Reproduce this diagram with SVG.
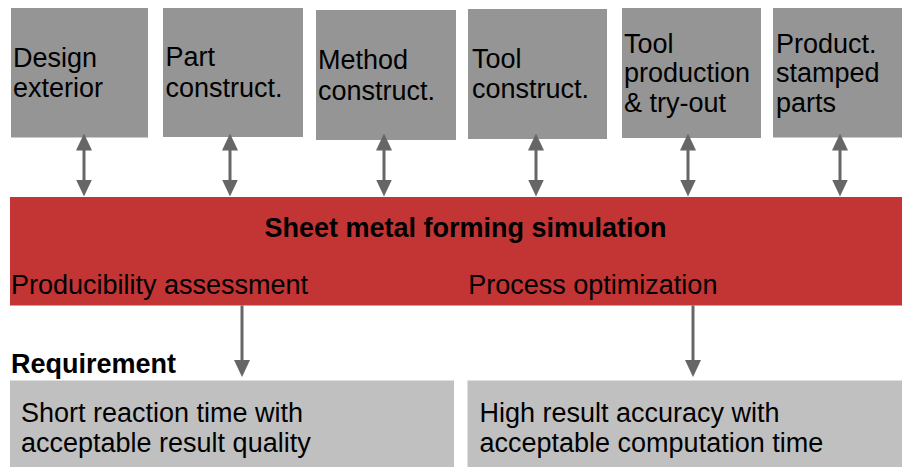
<svg xmlns="http://www.w3.org/2000/svg" width="902" height="467" viewBox="0 0 902 467">
  <style>
    .stage { fill: #959595; }
    .req { fill: #c0c0c0; }
    .band { fill: #c33434; }
    text { font-family: "Liberation Sans", Arial, sans-serif; font-size: 27px; fill: #000; }
    .bold { font-weight: bold; }
    .conn { stroke: #666666; stroke-width: 3; fill: none; }
  </style>
  <defs>
    <marker id="head" viewBox="0 0 17 16" refX="7" refY="8" markerWidth="17" markerHeight="16" markerUnits="userSpaceOnUse" orient="auto-start-reverse">
      <path d="M0,0 L17,8 L0,16 Z" fill="#666666"/>
    </marker>
  </defs>

  <rect width="902" height="467" fill="#ffffff"/>

  <!-- process stages -->
  <g id="design-exterior">
    <rect class="stage" x="11" y="8" width="137" height="129.5"/>
    <text x="13" y="67">Design</text>
    <text x="13" y="97">exterior</text>
  </g>
  <g id="part-construct">
    <rect class="stage" x="163" y="8" width="140" height="129"/>
    <text x="165.5" y="66">Part</text>
    <text x="165.5" y="96.5">construct.</text>
  </g>
  <g id="method-construct">
    <rect class="stage" x="316" y="10" width="140" height="130"/>
    <text x="318" y="69">Method</text>
    <text x="318" y="100">construct.</text>
  </g>
  <g id="tool-construct">
    <rect class="stage" x="468" y="9" width="139" height="130"/>
    <text x="472" y="67.5">Tool</text>
    <text x="472" y="98">construct.</text>
  </g>
  <g id="tool-production">
    <rect class="stage" x="622" y="8" width="139" height="130"/>
    <text x="624" y="52.5">Tool</text>
    <text x="624" y="82">production</text>
    <text x="624" y="112">&amp; try-out</text>
  </g>
  <g id="stamped-parts">
    <rect class="stage" x="773" y="8" width="140" height="129.5"/>
    <text x="776" y="52.5">Product.</text>
    <text x="776" y="82">stamped</text>
    <text x="776" y="112">parts</text>
  </g>

  <!-- simulation band -->
  <g id="simulation">
    <rect class="band" x="10" y="197" width="900" height="108.5"/>
    <text class="bold" x="465.5" y="236.7" text-anchor="middle">Sheet metal forming simulation</text>
    <text x="11" y="294.3">Producibility assessment</text>
    <text x="468.3" y="294.3">Process optimization</text>
  </g>

  <text id="requirement-label" class="bold" x="11" y="373">Requirement</text>

  <!-- requirements -->
  <g id="req-producibility">
    <rect class="req" x="10" y="380.5" width="444" height="90"/>
    <text x="21" y="422">Short reaction time with</text>
    <text x="21" y="452">acceptable result quality</text>
  </g>
  <g id="req-optimization">
    <rect class="req" x="467.5" y="380.5" width="440" height="90"/>
    <text x="479.5" y="422">High result accuracy with</text>
    <text x="479.5" y="452">acceptable computation time</text>
  </g>

  <!-- connectors -->
  <g id="connectors">
    <line class="conn" x1="84" y1="143.5" x2="84" y2="186.5" marker-start="url(#head)" marker-end="url(#head)"/>
    <line class="conn" x1="230" y1="143.5" x2="230" y2="186.5" marker-start="url(#head)" marker-end="url(#head)"/>
    <line class="conn" x1="384" y1="143.5" x2="384" y2="186.5" marker-start="url(#head)" marker-end="url(#head)"/>
    <line class="conn" x1="536" y1="143.5" x2="536" y2="186.5" marker-start="url(#head)" marker-end="url(#head)"/>
    <line class="conn" x1="688" y1="143.5" x2="688" y2="186.5" marker-start="url(#head)" marker-end="url(#head)"/>
    <line class="conn" x1="840" y1="143.5" x2="840" y2="186.5" marker-start="url(#head)" marker-end="url(#head)"/>
    <line class="conn" x1="242" y1="305.5" x2="242" y2="367" marker-end="url(#head)"/>
    <line class="conn" x1="693" y1="305.5" x2="693" y2="367" marker-end="url(#head)"/>
  </g>
</svg>
